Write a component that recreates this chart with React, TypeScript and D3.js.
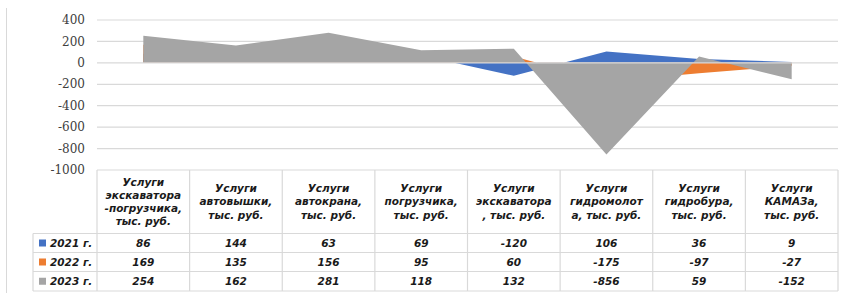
import React from 'react';
import * as d3 from 'd3';

const categories = [
  ['Услуги', 'экскаватора', '-погрузчика,', 'тыс. руб.'],
  ['Услуги', 'автовышки,', 'тыс. руб.'],
  ['Услуги', 'автокрана,', 'тыс. руб.'],
  ['Услуги', 'погрузчика,', 'тыс. руб.'],
  ['Услуги', 'экскаватора', ', тыс. руб.'],
  ['Услуги', 'гидромолот', 'а, тыс. руб.'],
  ['Услуги', 'гидробура,', 'тыс. руб.'],
  ['Услуги', 'КАМАЗа,', 'тыс. руб.'],
];
const seriesNames = ['2021 г.', '2022 г.', '2023 г.'];
const values2021 = [86, 144, 63, 69, -120, 106, 36, 9];
const values2022 = [169, 135, 156, 95, 60, -175, -97, -27];
const values2023 = [254, 162, 281, 118, 132, -856, 59, -152];
const colors = ['#4472C4', '#ED7D31', '#A5A5A5'];
const yTicks = [400, 200, 0, -200, -400, -600, -800, -1000];

const W = 848;
const H = 293;
const plotLeft = 97;
const plotRight = 838;
const plotTop = 20;
const plotBottom = 170;
const headTop = 170;
const headBottom = 233.5;
const rowBounds = [233.5, 252.5, 271.5, 291];
const legendLeft = 33;
const gridColor = '#d9d9d9';
const tableFont = '"DejaVu Sans", sans-serif';

export default function App() {
  const series = [values2021, values2022, values2023];
  const idx = categories.map((_, i) => i);
  const x = d3.scalePoint<number>().domain(idx).range([plotLeft, plotRight]).padding(0.5);
  const step = x.step();
  const y = d3.scaleLinear().domain([-1000, 400]).range([plotBottom, plotTop]);

  const area = (vals: number[]) =>
    d3.area<number>()
      .x((_d, i) => x(i) as number)
      .y0(y(0))
      .y1((d) => y(d))(vals) || '';

  const colEdges = idx.map((i) => (x(i) as number) - step / 2).concat([plotRight]);

  return (
    <svg width={W} height={H} style={{ position: 'absolute', left: 0, top: 0, background: '#fff' }}>
      <rect x={0} y={0} width={W} height={H} fill="#fff" />
      <line x1={6.5} x2={6.5} y1={8} y2={H} stroke={gridColor} strokeWidth={1} />

      {/* gridlines */}
      {yTicks.filter((t) => t !== 0 && t !== -1000).map((t) => (
        <line key={t} x1={plotLeft} x2={plotRight} y1={y(t)} y2={y(t)} stroke={gridColor} strokeWidth={1.2} />
      ))}

      {/* y labels */}
      {yTicks.map((t) => (
        <text key={t} x={85} y={y(t)} dy="0.35em" textAnchor="end"
          fontFamily='"DejaVu Serif", serif' fontSize={12} fill="#404040">{t}</text>
      ))}

      {/* areas */}
      {series.map((vals, s) => (
        <path key={s} d={area(vals)} fill={colors[s]} />
      ))}

      {/* zero axis line */}
      <line x1={plotLeft} x2={plotRight} y1={y(0)} y2={y(0)} stroke={gridColor} strokeWidth={1.2} />

      {/* data table */}
      <g stroke={gridColor} strokeWidth={1.2} fill="none">
        <line x1={plotLeft} x2={plotRight} y1={headTop} y2={headTop} />
        {rowBounds.map((yy) => (
          <line key={yy} x1={legendLeft} x2={plotRight} y1={yy} y2={yy} />
        ))}
        {colEdges.map((xx, i) => (
          <line key={i} x1={xx} x2={xx} y1={headTop} y2={rowBounds[3]} />
        ))}
        <line x1={legendLeft} x2={legendLeft} y1={rowBounds[0]} y2={rowBounds[3]} />
      </g>

      {categories.map((lines, i) => {
        const cx = x(i) as number;
        const lh = 13.2;
        const mid = (headTop + headBottom) / 2;
        const start = mid - ((lines.length - 1) * lh) / 2;
        return (
          <text key={i} textAnchor="middle" fontFamily={tableFont} fontSize={10.5}
            fontWeight="bold" fontStyle="italic" fill="#1a1a1a">
            {lines.map((ln, j) => (
              <tspan key={j} x={cx} y={start + j * lh} dy="0.35em">{ln}</tspan>
            ))}
          </text>
        );
      })}

      {series.map((vals, s) => {
        const ry = (rowBounds[s] + rowBounds[s + 1]) / 2;
        return (
          <g key={s}>
            <rect x={39} y={ry - 3.5} width={7} height={7} fill={colors[s]} />
            <text x={50} y={ry} dy="0.35em" fontFamily={tableFont} fontSize={10.5}
              fontWeight="bold" fontStyle="italic" fill="#1a1a1a">{seriesNames[s]}</text>
            {vals.map((v, i) => (
              <text key={i} x={x(i) as number} y={ry} dy="0.35em" textAnchor="middle"
                fontFamily={tableFont} fontSize={10.5} fontWeight="bold" fontStyle="italic"
                fill="#1a1a1a">{v}</text>
            ))}
          </g>
        );
      })}
    </svg>
  );
}
